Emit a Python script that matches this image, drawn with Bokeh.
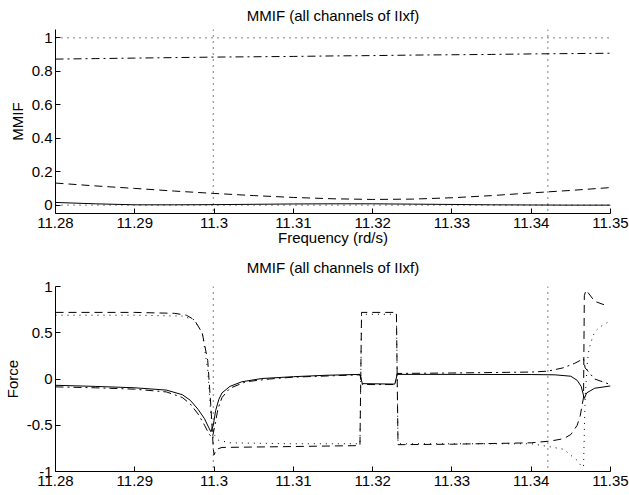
from bokeh.plotting import figure
from bokeh.layouts import column
from bokeh.models import Range1d, FixedTicker, PrintfTickFormatter, Span
from bokeh.embed import file_html
from bokeh.resources import INLINE

# ---------------- data ----------------
title_text = "MMIF (all channels of IIxf)"
x_ticks = [11.28, 11.29, 11.3, 11.31, 11.32, 11.33, 11.34, 11.35]
x_tick_labels = ["11.28", "11.29", "11.3", "11.31", "11.32", "11.33", "11.34", "11.35"]
top_y_ticks = [0, 0.2, 0.4, 0.6, 0.8, 1]
top_y_tick_labels = ["0", "0.2", "0.4", "0.6", "0.8", "1"]
bot_y_ticks = [-1, -0.5, 0, 0.5, 1]
bot_y_tick_labels = ["-1", "-0.5", "0", "0.5", "1"]
natural_freqs = [11.2999, 11.3421]

# top plot: MMIF values
top_freq = [11.28, 11.285, 11.29, 11.295, 11.30, 11.305, 11.31, 11.315,
            11.32, 11.325, 11.33, 11.335, 11.34, 11.345, 11.35]
mmif_solid = [0.016, 0.008, 0.002, 0.002, 0.003, 0.005, 0.007, 0.008,
              0.008, 0.006, 0.004, 0.002, 0.001, 0.0, 0.0]
mmif_dashed = [0.132, 0.115, 0.100, 0.084, 0.070, 0.057, 0.046, 0.038,
               0.034, 0.036, 0.044, 0.057, 0.073, 0.088, 0.105]
mmif_dashdot = [0.873, 0.876, 0.879, 0.882, 0.885, 0.887, 0.889, 0.892,
                0.894, 0.897, 0.899, 0.901, 0.904, 0.906, 0.908]
mmif_dotted = [1.0] * 15

# bottom plot: force patterns
force_solid_f = [11.28, 11.285, 11.29, 11.294, 11.296, 11.297, 11.298, 11.2988,
                 11.2993, 11.2996, 11.2999, 11.3002, 11.3006, 11.301, 11.302,
                 11.3035, 11.306, 11.31, 11.314, 11.3184, 11.3187, 11.3228,
                 11.3231, 11.33, 11.34, 11.343, 11.345, 11.3458, 11.3463,
                 11.3467, 11.347, 11.348, 11.35]
force_solid = [-0.068, -0.08, -0.095, -0.12, -0.17, -0.23, -0.33, -0.43,
               -0.52, -0.57, -0.5, -0.34, -0.22, -0.15, -0.08,
               -0.03, 0.005, 0.025, 0.04, 0.05, -0.05, -0.055,
               0.05, 0.05, 0.048, 0.045, 0.03, -0.015, -0.08,
               -0.21, -0.15, -0.1, -0.075]

force_dashdot_f = [11.28, 11.285, 11.29, 11.294, 11.296, 11.297, 11.298, 11.2988,
                   11.2994, 11.2998, 11.3001, 11.3005, 11.301, 11.302, 11.304,
                   11.307, 11.31, 11.315, 11.3184, 11.3187, 11.3228, 11.3231,
                   11.33, 11.34, 11.3421, 11.344, 11.3455, 11.3466, 11.3468,
                   11.348, 11.35]
force_dashdot = [-0.085, -0.095, -0.11, -0.14, -0.2, -0.27, -0.38, -0.5,
                 -0.6, -0.63, -0.5, -0.32, -0.2, -0.1, -0.03,
                 0.0, 0.02, 0.035, 0.045, -0.06, -0.06, 0.06,
                 0.065, 0.075, 0.085, 0.12, 0.17, 0.22, 0.12,
                 0.0, -0.06]

force_dashed_f = [11.28, 11.29, 11.295, 11.2965, 11.2975, 11.2985, 11.2992,
                  11.2996, 11.2999, 11.3, 11.3003, 11.301, 11.31, 11.3184,
                  11.3186, 11.323, 11.3232, 11.33, 11.34, 11.3425, 11.3441,
                  11.345, 11.3458, 11.3462, 11.3464, 11.3466, 11.3467,
                  11.3469, 11.3472, 11.348, 11.3496]
force_dashed = [0.72, 0.72, 0.71, 0.69, 0.64, 0.5, 0.2,
                -0.3, -0.75, -0.82, -0.76, -0.74, -0.73, -0.72,
                0.72, 0.72, -0.71, -0.705, -0.69, -0.67, -0.645,
                -0.60, -0.50, -0.39, -0.29, -0.2, 0.9,
                0.96, 0.93, 0.84, 0.79]

force_dotted_f = [11.28, 11.29, 11.296, 11.2975, 11.2985, 11.2992, 11.2996,
                  11.3, 11.3005, 11.302, 11.31, 11.3184, 11.3186, 11.323,
                  11.3232, 11.34, 11.3425, 11.3441, 11.345, 11.3458, 11.3463,
                  11.3466, 11.3468, 11.3471, 11.3473, 11.3477, 11.348,
                  11.3485, 11.349, 11.3496]
force_dotted = [0.69, 0.69, 0.68, 0.64, 0.5, 0.1, -0.4,
                -0.6, -0.66, -0.69, -0.70, -0.70, 0.70, 0.70,
                -0.70, -0.70, -0.735, -0.76, -0.825, -0.88, -0.94,
                -0.95, -0.2, 0.2, 0.33, 0.44, 0.51,
                0.55, 0.58, 0.61]

# ---------------- styling helpers ----------------
FONT = "Liberation Sans"
FS = "15px"
DASHED = "8 5"
DASHDOT = "8 4 2 4"
DOTTED = "1 5"


def style(p, yticks, ylabels, ylabel):
    p.title.text_font = FONT
    p.title.text_font_size = FS
    p.title.text_font_style = "normal"
    p.title.text_color = "black"
    p.title.align = "center"
    p.title.vertical_align = "top"
    p.outline_line_color = None
    p.xgrid.visible = False
    p.ygrid.visible = False
    for ax in (p.xaxis[0], p.yaxis[0]):
        ax.major_label_text_font = FONT
        ax.major_label_text_font_size = FS
        ax.major_label_text_color = "black"
        ax.axis_label_text_font = FONT
        ax.axis_label_text_font_size = FS
        ax.axis_label_text_font_style = "normal"
        ax.axis_label_text_color = "black"
        ax.axis_line_color = "black"
        ax.axis_line_width = 1
        ax.major_tick_line_color = "black"
        ax.major_tick_in = 5
        ax.major_tick_out = 0
        ax.minor_tick_line_color = None
        ax.formatter = PrintfTickFormatter(format="%g")
    p.xaxis.ticker = FixedTicker(ticks=x_ticks)
    p.xaxis.major_label_overrides = dict(zip(x_ticks, x_tick_labels))
    p.xaxis.major_label_standoff = 4
    p.yaxis.ticker = FixedTicker(ticks=yticks)
    p.yaxis.major_label_overrides = dict(zip(yticks, ylabels))
    p.yaxis.major_label_standoff = 3
    p.yaxis.axis_label = ylabel
    p.yaxis.axis_label_standoff = 3
    for f in natural_freqs:
        p.add_layout(Span(location=f, dimension="height", line_color="black",
                          line_width=1, line_dash=DOTTED))


# ---------------- top figure ----------------
p1 = figure(width=629, height=249, output_backend="svg", toolbar_location=None,
            x_range=Range1d(11.28, 11.35), y_range=Range1d(-0.05, 1.05),
            title=title_text, min_border_left=51, min_border_right=19,
            min_border_top=29, min_border_bottom=36)
style(p1, top_y_ticks, top_y_tick_labels, "MMIF")
p1.title.standoff = 8
p1.xaxis.axis_label = "Frequency (rd/s)"
p1.xaxis.axis_label_standoff = -2
p1.add_layout(Span(location=0, dimension="width", line_color="black",
                   line_width=1, line_dash=DOTTED))
p1.line(top_freq, mmif_dotted, line_color="black", line_width=1, line_dash=DOTTED)
p1.line(top_freq, mmif_dashdot, line_color="black", line_width=1, line_dash=DASHDOT)
p1.line(top_freq, mmif_dashed, line_color="black", line_width=1, line_dash=DASHED)
p1.line(top_freq, mmif_solid, line_color="black", line_width=1)

# ---------------- bottom figure ----------------
p2 = figure(width=629, height=245, output_backend="svg", toolbar_location=None,
            x_range=Range1d(11.28, 11.35), y_range=Range1d(-1, 1),
            title=title_text, min_border_left=51, min_border_right=19,
            min_border_top=37, min_border_bottom=23)
style(p2, bot_y_ticks, bot_y_tick_labels, "Force")
p2.title.standoff = 18
p2.line(force_dotted_f, force_dotted, line_color="black", line_width=1, line_dash=DOTTED)
p2.line(force_dashed_f, force_dashed, line_color="black", line_width=1, line_dash=DASHED)
p2.line(force_dashdot_f, force_dashdot, line_color="black", line_width=1, line_dash=DASHDOT)
p2.line(force_solid_f, force_solid, line_color="black", line_width=1)

layout = column(p1, p2, spacing=0)
open("out.html", "w").write(file_html(layout, INLINE))
